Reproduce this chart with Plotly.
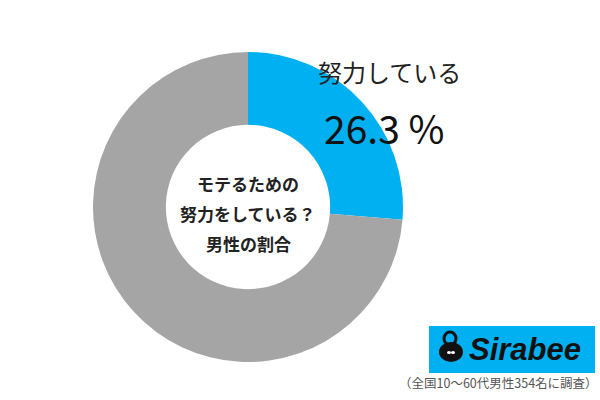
import plotly.graph_objects as go

labels = ["努力している", "その他"]
values = [26.3, 73.7]
colors = ["#00B0F0", "#A5A5A5"]
title_lines = ["モテるための", "努力をしている？", "男性の割合"]
note = "（全国10～60代男性354名に調査）"

W, H = 600, 400
def px(x): return x / W
def py(y): return 1 - y / H

fig = go.Figure()
fig.add_trace(go.Pie(
    labels=labels, values=values, hole=0.53, sort=False, direction="clockwise",
    rotation=0, marker=dict(colors=colors, line=dict(color="white", width=0)),
    textinfo="none", hoverinfo="label+percent", showlegend=False,
    domain=dict(x=[px(93), px(403)], y=[py(362), py(52)]),
))

font_jp = "Noto Sans CJK JP"
def ann(x, y, text, size, color="#222", family=font_jp):
    return dict(x=px(x), y=py(y), text=text, showarrow=False, xanchor="center", yanchor="middle",
                font=dict(family=family, size=size, color=color), xref="paper", yref="paper")

anns = [
    ann(389, 71, labels[0], 24, "#222"),
    ann(384, 127, f"{values[0]} %", 39, "#111"),
]
for i, t in enumerate(title_lines):
    anns.append(ann(248, 183 + 30 * i, f"<b>{t}</b>", 17, "#222"))
anns.append(ann(525, 349, "<b><i>Sirabee</i></b>", 31, "#111", "Liberation Sans"))
anns.append(ann(498, 382, note, 12.5, "#555"))

shapes = [
    dict(type="rect", xref="paper", yref="paper", x0=px(429), x1=px(595), y0=py(373), y1=py(326),
         fillcolor="#00B0F0", line=dict(width=0), layer="below"),
    dict(type="circle", xref="paper", yref="paper", x0=px(439), x1=px(463), y0=py(362), y1=py(342),
         fillcolor="#111", line=dict(width=0)),
    dict(type="circle", xref="paper", yref="paper", x0=px(444), x1=px(456), y0=py(345), y1=py(332),
         fillcolor="rgba(0,0,0,0)", line=dict(width=3, color="#111")),
    dict(type="circle", xref="paper", yref="paper", x0=px(447), x1=px(451), y0=py(354), y1=py(351),
         fillcolor="white", line=dict(width=0)),
    dict(type="circle", xref="paper", yref="paper", x0=px(451), x1=px(455), y0=py(354), y1=py(351),
         fillcolor="white", line=dict(width=0)),
]

fig.update_layout(width=W, height=H, margin=dict(l=0, r=0, t=0, b=0),
                  paper_bgcolor="white", plot_bgcolor="white",
                  annotations=anns, shapes=shapes)
fig.write_html("out.html", config={"displayModeBar": False},
               post_script="document.body.style.margin='0';")
